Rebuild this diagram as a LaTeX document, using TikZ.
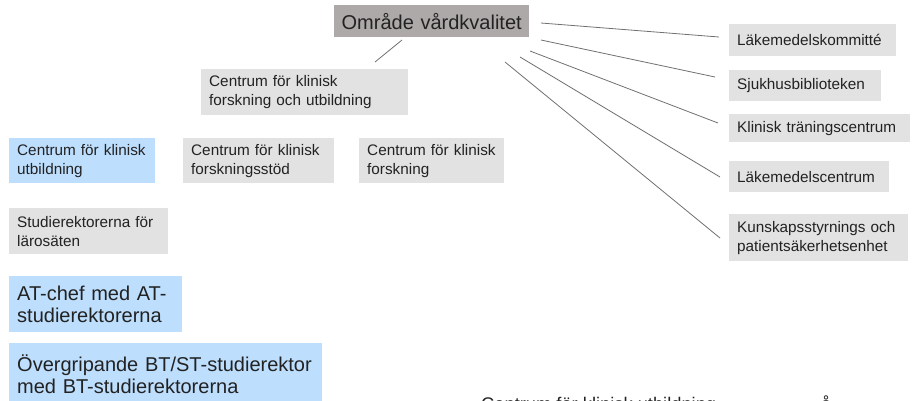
\documentclass[tikz,border=0pt]{standalone}
\usepackage{fontspec}
\setmainfont{Liberation Sans}

\definecolor{boxgray}{HTML}{E2E2E2}
\definecolor{boxblue}{HTML}{BDDEFD}
\definecolor{headgray}{HTML}{ADA9A8}
\definecolor{ink}{HTML}{222222}
\definecolor{linkgray}{HTML}{707070}

\newcommand\smalltxt{\fontsize{15.3}{19}\selectfont}
\newcommand\bigtxt{\fontsize{20}{22}\selectfont}
\newcommand\tailtxt{\fontsize{18.3}{22}\selectfont}

\tikzset{
  unitbox/.style={rectangle, anchor=north west, inner xsep=8pt, inner ysep=0pt,
    align=left, text=ink, font=\smalltxt, fill=boxgray},
  bluebox/.style={unitbox, fill=boxblue},
  headbox/.style={unitbox, fill=headgray, font=\bigtxt, align=center, inner xsep=2pt},
  link/.style={draw=linkgray, line width=0.8pt},
}

\begin{document}
\begin{tikzpicture}[x=1pt, y=-1pt]
  \useasboundingbox (0,0) rectangle (912,400);
  \clip (0,0) rectangle (912,400);

  % head of the area
  \node[headbox, text width=191pt, minimum height=32pt] (head) at (334,5) {Område vårdkvalitet};

  % research and education centre with its three parts
  \node[unitbox, text width=191pt, minimum height=46pt] (cfu) at (201,69)
    {Centrum för klinisk\\forskning och utbildning};
  \node[bluebox, text width=130pt, minimum height=45pt] (cku) at (9,138)
    {Centrum för klinisk\\utbildning};
  \node[unitbox, text width=135pt, minimum height=45pt] (cfs) at (183,138)
    {Centrum för klinisk\\forskningsstöd};
  \node[unitbox, text width=129pt, minimum height=45pt] (cf) at (359,138)
    {Centrum för klinisk\\forskning};

  % left column
  \node[unitbox, text width=143pt, minimum height=46pt] (stud) at (9,208)
    {Studierektorerna för\\lärosäten};
  \node[bluebox, font=\bigtxt, text width=157pt, minimum height=56pt] (atc) at (9,276)
    {AT-chef med AT-\\studierektorerna};
  \node[bluebox, font=\bigtxt, text width=297pt, minimum height=62pt] (btst) at (9,343)
    {Övergripande BT/ST-studierektor\\med BT-studierektorerna};

  % right column
  \node[unitbox, text width=151pt, minimum height=32pt] (lkm) at (729,24) {Läkemedelskommitté};
  \node[unitbox, text width=136pt, minimum height=31pt] (sjb) at (729,70) {Sjukhusbiblioteken};
  \node[unitbox, text width=165pt, minimum height=28pt] (ktc) at (729,114) {Klinisk träningscentrum};
  \node[unitbox, text width=144pt, minimum height=31pt] (lmc) at (729,161) {Läkemedelscentrum};
  \node[unitbox, text width=163pt, minimum height=47pt] (kps) at (729,214)
    {Kunskapsstyrnings och\\patientsäkerhetsenhet};

  % connector end points
  \coordinate (c0a) at (402,40);  \coordinate (c0b) at (375,62);
  \coordinate (r1a) at (541,23);  \coordinate (r1b) at (719,37);
  \coordinate (r2a) at (541,40);  \coordinate (r2b) at (715,77);
  \coordinate (r3a) at (530,51);  \coordinate (r3b) at (718,123);
  \coordinate (r4a) at (520,57);  \coordinate (r4b) at (720,177);
  \coordinate (r5a) at (505,62);  \coordinate (r5b) at (720,238);

  \draw[link] (c0a) -- (c0b);
  \draw[link] (r1a) -- (r1b);
  \draw[link] (r2a) -- (r2b);
  \draw[link] (r3a) -- (r3b);
  \draw[link] (r4a) -- (r4b);
  \draw[link] (r5a) -- (r5b);

  % caption running off the lower edge
  \node[anchor=base west, inner sep=0pt, text=ink, font=\tailtxt] (tail) at (481,410.5)
    {Centrum för klinisk utbildning};
  \node[anchor=base west, inner sep=0pt, text=ink, font=\tailtxt] (tailb) at (821,410.5) {å};
\end{tikzpicture}
\end{document}
